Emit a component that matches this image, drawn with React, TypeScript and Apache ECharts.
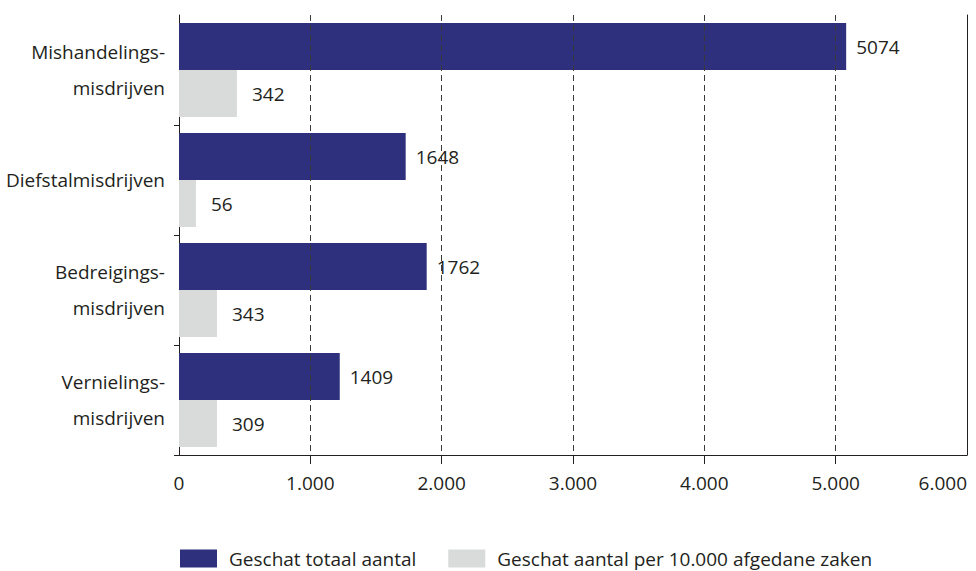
import React, { useEffect, useRef } from "react";
import * as echarts from "echarts";

const categories = [
  "Mishandelings-\nmisdrijven",
  "Diefstalmisdrijven",
  "Bedreigings-\nmisdrijven",
  "Vernielings-\nmisdrijven",
];
const seriesNames = ["Geschat totaal aantal", "Geschat aantal per 10.000 afgedane zaken"];
// bar lengths as drawn in the picture
const totalValues = [5080, 1726, 1886, 1224];
const perTenThousandValues = [441, 129, 289, 289];
// value labels as printed in the picture
const totalLabels = ["5074", "1648", "1762", "1409"];
const perTenThousandLabels = ["342", "56", "343", "309"];
const xTicks = [0, 1000, 2000, 3000, 4000, 5000, 6000];

const FONT = "'Open Sans', 'Noto Sans', sans-serif";
const TEXT = "#231f20";
const NAVY = "#2e307e";
const GRAY = "#d9dbdb";
const FS = 19;

export default function App() {
  const ref = useRef<HTMLDivElement>(null);
  useEffect(() => {
    if (!ref.current) return;
    const chart = echarts.init(ref.current, null, { renderer: "svg" });
    chart.setOption({
      animation: false,
      textStyle: { fontFamily: FONT, color: TEXT },
      grid: { left: 179, right: 9, top: 15, bottom: 116, containLabel: false },
      legend: {
        left: 180,
        top: 549,
        itemWidth: 37,
        itemHeight: 18,
        itemGap: 32,
        icon: "rect",
        padding: 0,
        textStyle: {
          fontSize: FS,
          lineHeight: 18,
          color: TEXT,
          fontFamily: FONT,
          padding: [0, 0, 0, 7],
        },
        data: seriesNames,
      },
      xAxis: {
        type: "value",
        min: 0,
        max: 6000,
        interval: 1000,
        z: 5,
        axisLine: { show: true, lineStyle: { color: TEXT, width: 1 } },
        axisTick: {
          show: true,
          length: 9,
          customValues: xTicks.slice(1, -1),
          lineStyle: { color: TEXT },
        },
        axisLabel: {
          fontSize: FS,
          color: TEXT,
          fontFamily: FONT,
          margin: 18,
          alignMaxLabel: "right",
          formatter: (v: number) => (v === 0 ? "0" : `${v / 1000}.000`),
        },
        splitLine: { show: true, lineStyle: { color: "#3a3a3a", type: [6, 4], width: 1 } },
      },
      yAxis: [
        {
          type: "category",
          inverse: true,
          data: categories,
          axisLine: { show: true, lineStyle: { color: TEXT, width: 1 } },
          axisTick: {
            show: true,
            length: 5,
            interval: (i: number) => i > 0,
            lineStyle: { color: TEXT },
          },
          axisLabel: {
            fontSize: FS,
            color: TEXT,
            fontFamily: FONT,
            margin: 14,
            lineHeight: 36,
            align: "right",
          },
        },
        {
          type: "category",
          inverse: true,
          position: "right",
          data: categories,
          axisLine: { show: true, lineStyle: { color: TEXT, width: 1 } },
          axisTick: { show: false },
          axisLabel: { show: false },
        },
      ],
      series: [
        {
          name: seriesNames[0],
          type: "bar",
          yAxisIndex: 0,
          data: totalValues,
          barWidth: 47,
          barGap: "0%",
          itemStyle: { color: NAVY },
          label: {
            show: true,
            position: "right",
            distance: 10,
            fontSize: FS,
            color: TEXT,
            fontFamily: FONT,
            formatter: (p: any) => totalLabels[p.dataIndex],
          },
        },
        {
          name: seriesNames[1],
          type: "bar",
          yAxisIndex: 0,
          data: perTenThousandValues,
          barWidth: 47,
          barGap: "0%",
          itemStyle: { color: GRAY },
          label: {
            show: true,
            position: "right",
            distance: 15,
            fontSize: FS,
            color: TEXT,
            fontFamily: FONT,
            formatter: (p: any) => perTenThousandLabels[p.dataIndex],
          },
        },
      ],
    });
    return () => chart.dispose();
  }, []);
  return (
    <div
      ref={ref}
      style={{ position: "absolute", left: 0, top: 0, width: 976, height: 571 }}
    />
  );
}
